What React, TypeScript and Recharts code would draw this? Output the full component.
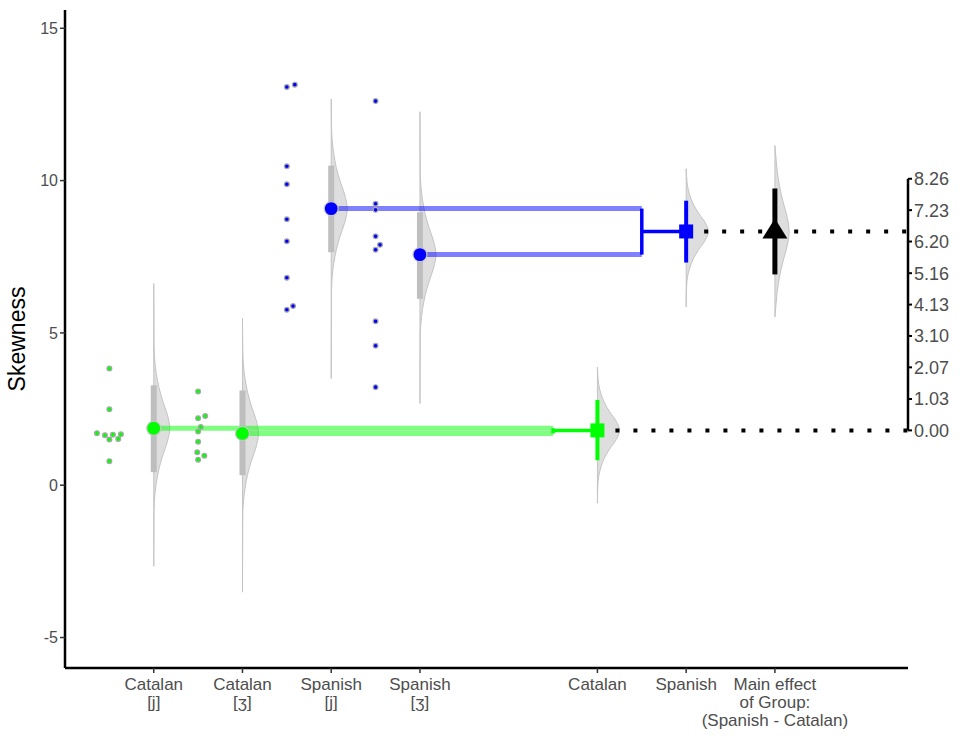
import { Area, ComposedChart, Line, Scatter, XAxis, YAxis } from "recharts";

const FONT = "'Liberation Sans', Arial, sans-serif";
const TEXT_GREY = "#4D4D4D";
const GREEN = "#00FF00";
const BLUE = "#0000FF";

// axes
const X_TICKS = [1, 2, 3, 4, 6, 7, 8];
const X_LABELS = [
  ["Catalan", "[j]"],
  ["Catalan", "[ʒ]"],
  ["Spanish", "[j]"],
  ["Spanish", "[ʒ]"],
  ["Catalan"],
  ["Spanish"],
  ["Main effect", "of Group:", "(Spanish - Catalan)"],
];
const Y_TICKS = [-5, 0, 5, 10, 15];
const RIGHT_TICKS = [0, 1.03, 2.07, 3.1, 4.13, 5.16, 6.2, 7.23, 8.26];
const X_DOMAIN = [0, 9.5];
const Y_DOMAIN = [-6, 15.6];

// raw observations (skewness per participant), with jittered x
const CAT_J = [3.83, 2.49, 1.71, 1.64, 1.66, 1.67, 1.5, 1.52, 0.79];
const CAT_J_X = [0.5, 0.5, 0.36, 0.45, 0.54, 0.63, 0.5, 0.6, 0.5];
const CAT_ZH = [3.08, 2.2, 2.27, 1.91, 1.76, 1.43, 1.08, 0.97, 0.84];
const CAT_ZH_X = [1.5, 1.5, 1.58, 1.53, 1.5, 1.5, 1.49, 1.57, 1.5];
const SPA_J = [13.07, 13.15, 10.47, 9.88, 8.73, 8.01, 6.81, 5.76, 5.88];
const SPA_J_X = [2.5, 2.59, 2.5, 2.5, 2.5, 2.5, 2.5, 2.5, 2.57];
const SPA_ZH = [12.61, 9.24, 9.04, 8.17, 7.89, 7.73, 5.38, 4.58, 3.22];
const SPA_ZH_X = [3.5, 3.5, 3.5, 3.5, 3.55, 3.5, 3.5, 3.5, 3.5];

// cell posteriors: Catalan[j], Catalan[ʒ], Spanish[j], Spanish[ʒ]
const CELL_POS = [1, 2, 3, 4];
const CELL_MEAN = [1.87, 1.7, 9.08, 7.57];
const CELL_LO = [0.43, 0.33, 7.65, 6.12];
const CELL_HI = [3.28, 3.11, 10.49, 8.96];
const CELL_TAIL_LO = [-2.66, -3.51, 3.5, 2.68];
const CELL_TAIL_HI = [6.62, 5.48, 12.68, 12.26];
const CELL_COLOR = [GREEN, GREEN, BLUE, BLUE];

// group marginal posteriors: Catalan, Spanish
const GROUP_POS = [6, 7];
const GROUP_MEAN = [1.8, 8.33];
const GROUP_LO = [0.82, 7.31];
const GROUP_HI = [2.8, 9.34];
const GROUP_TAIL_LO = [-0.59, 5.85];
const GROUP_TAIL_HI = [3.88, 10.39];
const GROUP_COLOR = [GREEN, BLUE];

// main effect (right axis scale)
const EFFECT_POS = 8;
const EFFECT_MEAN = 6.53;
const EFFECT_LO = 5.12;
const EFFECT_HI = 7.94;
const EFFECT_TAIL = [3.72, 9.35];

// half-eye outline: (offset in spreads, relative width)
const PROFILE = [
  [-3, 0.02], [-2.5, 0.06], [-2, 0.16], [-1.5, 0.32], [-1, 0.56], [-0.5, 0.85],
  [0, 1], [0.5, 0.85], [1, 0.56], [1.5, 0.32], [2, 0.16], [2.5, 0.06], [3, 0.02],
];

function halfEye(pos: number, center: number, spread: number, width: number, lo: number, hi: number) {
  const pts = [{ y: lo, xr: [pos, pos] }];
  PROFILE.forEach(([z, w]) => {
    const y = center + z * spread;
    if (y > lo && y < hi) pts.push({ y, xr: [pos, pos + w * width] });
  });
  pts.push({ y: hi, xr: [pos, pos] });
  return pts;
}

const seg = (x1: number, y1: number, x2: number, y2: number) => [
  { x: x1, y: y1 },
  { x: x2, y: y2 },
];

const points = (ys: number[], xs: number[]) => ys.map((y, i) => ({ x: xs[i], y }));

const XTick = (props: any) => {
  const { x, y, payload } = props;
  const lines = X_LABELS[X_TICKS.indexOf(payload.value)] ?? [];
  return (
    <g transform={`translate(${x},${y})`}>
      <text textAnchor="middle" fill={TEXT_GREY} fontSize={17} fontFamily={FONT}>
        {lines.map((l, k) => (
          <tspan key={k} x={0} dy={k === 0 ? 15 : 18}>
            {l}
          </tspan>
        ))}
      </text>
    </g>
  );
};

const rawDot = (fill: string) => (p: any) => (
  <circle cx={p.cx} cy={p.cy} r={2.4} fill={fill} stroke="#A8A8A8" strokeWidth={1.2} />
);
const meanDot = (fill: string) => (p: any) => (
  <circle cx={p.cx} cy={p.cy} r={7} fill={fill} stroke="#C8C8C8" strokeWidth={1.2} />
);
const square = (fill: string) => (p: any) => (
  <rect x={p.cx - 7} y={p.cy - 7} width={14} height={14} fill={fill} />
);
const triangle = (p: any) => (
  <polygon
    points={`${p.cx},${p.cy - 13} ${p.cx - 12.5},${p.cy + 7} ${p.cx + 12.5},${p.cy + 7}`}
    fill="#000"
  />
);

const lineProps = {
  type: "linear" as const,
  dataKey: "x",
  dot: false,
  activeDot: false,
  isAnimationActive: false,
  legendType: "none" as const,
};

const violinProps = {
  type: "monotone" as const,
  dataKey: "xr",
  fill: "#DEDEDE",
  fillOpacity: 1,
  stroke: "#C4C4C4",
  strokeWidth: 1,
  dot: false,
  activeDot: false,
  isAnimationActive: false,
  legendType: "none" as const,
};

export default function App() {
  const rightDomain = [Y_DOMAIN[0] - GROUP_MEAN[0], Y_DOMAIN[1] - GROUP_MEAN[0]];
  const raw = [
    { ys: CAT_J, xs: CAT_J_X, c: GREEN },
    { ys: CAT_ZH, xs: CAT_ZH_X, c: GREEN },
    { ys: SPA_J, xs: SPA_J_X, c: BLUE },
    { ys: SPA_ZH, xs: SPA_ZH_X, c: BLUE },
  ];

  return (
    <div style={{ position: "absolute", left: 0, top: 0, background: "#fff" }}>
      <ComposedChart
        width={961}
        height={736}
        layout="vertical"
        margin={{ top: 10, right: 0, bottom: 8, left: 0 }}
      >
        <XAxis
          type="number"
          dataKey="x"
          domain={X_DOMAIN}
          ticks={X_TICKS}
          interval={0}
          height={60}
          tick={<XTick />}
          tickSize={5}
          axisLine={{ stroke: "#000", strokeWidth: 2.5 }}
          tickLine={{ stroke: "#333", strokeWidth: 1.5 }}
        />
        <YAxis
          type="number"
          dataKey="y"
          reversed
          domain={Y_DOMAIN}
          ticks={Y_TICKS}
          interval={0}
          width={65}
          tickSize={5}
          tick={{ fill: TEXT_GREY, fontSize: 16, fontFamily: FONT }}
          axisLine={{ stroke: "#000", strokeWidth: 2.5 }}
          tickLine={{ stroke: "#333", strokeWidth: 1.5 }}
          label={{
            value: "Skewness",
            angle: -90,
            position: "insideLeft",
            offset: 17,
            fill: "#000",
            fontSize: 23,
            fontFamily: FONT,
            style: { textAnchor: "middle" },
          }}
        />
        <YAxis
          yAxisId="right"
          orientation="right"
          type="number"
          dataKey="y"
          reversed
          domain={rightDomain}
          ticks={RIGHT_TICKS}
          interval={0}
          width={53}
          tickSize={4}
          tickFormatter={(v: number) => v.toFixed(2)}
          tick={{ fill: TEXT_GREY, fontSize: 18, fontFamily: FONT }}
          axisLine={false}
          tickLine={{ stroke: "#000", strokeWidth: 2 }}
        />

        {/* half-eye densities */}
        {CELL_POS.map((p, i) => (
          <Area
            key={`v${i}`}
            {...violinProps}
            data={halfEye(p, CELL_MEAN[i], 0.9, 0.18, CELL_TAIL_LO[i], CELL_TAIL_HI[i])}
          />
        ))}
        {GROUP_POS.map((p, i) => (
          <Area
            key={`g${i}`}
            {...violinProps}
            data={halfEye(p, GROUP_MEAN[i], 0.6, 0.25, GROUP_TAIL_LO[i], GROUP_TAIL_HI[i])}
          />
        ))}
        <Area
          {...violinProps}
          yAxisId="right"
          data={halfEye(EFFECT_POS, EFFECT_MEAN, 1.0, 0.16, EFFECT_TAIL[0], EFFECT_TAIL[1])}
        />

        {/* credible interval bars of the cells */}
        {CELL_POS.map((p, i) => (
          <Line
            key={`ci${i}`}
            {...lineProps}
            data={seg(p, CELL_LO[i], p, CELL_HI[i])}
            stroke="#BEBEBE"
            strokeWidth={6}
          />
        ))}

        {/* links from cells to group brackets */}
        {CELL_POS.map((p, i) => {
          const g = i < 2 ? 0 : 1;
          return (
            <Line
              key={`lk${i}`}
              {...lineProps}
              data={seg(p, CELL_MEAN[i], GROUP_POS[g] - 0.5, CELL_MEAN[i])}
              stroke={CELL_COLOR[i]}
              strokeOpacity={0.5}
              strokeWidth={5}
            />
          );
        })}
        {GROUP_POS.map((p, g) => (
          <Line
            key={`br${g}`}
            {...lineProps}
            data={seg(p - 0.5, CELL_MEAN[g * 2], p - 0.5, CELL_MEAN[g * 2 + 1])}
            stroke={GROUP_COLOR[g]}
            strokeWidth={3.5}
          />
        ))}
        {GROUP_POS.map((p, g) => (
          <Line
            key={`cn${g}`}
            {...lineProps}
            data={seg(p - 0.5, GROUP_MEAN[g], p, GROUP_MEAN[g])}
            stroke={GROUP_COLOR[g]}
            strokeWidth={3.5}
          />
        ))}

        {/* dotted reference lines to the difference axis */}
        {GROUP_POS.map((p, g) => (
          <Line
            key={`dt${g}`}
            {...lineProps}
            data={seg(p, GROUP_MEAN[g], X_DOMAIN[1], GROUP_MEAN[g])}
            stroke="#000"
            strokeWidth={4}
            strokeDasharray="4 14"
          />
        ))}
        <Line
          {...lineProps}
          yAxisId="right"
          data={seg(X_DOMAIN[1], RIGHT_TICKS[0], X_DOMAIN[1], RIGHT_TICKS[RIGHT_TICKS.length - 1])}
          stroke="#000"
          strokeWidth={2.5}
        />

        {/* group and effect intervals */}
        {GROUP_POS.map((p, g) => (
          <Line
            key={`ge${g}`}
            {...lineProps}
            data={seg(p, GROUP_LO[g], p, GROUP_HI[g])}
            stroke={GROUP_COLOR[g]}
            strokeWidth={4}
          />
        ))}
        <Line
          {...lineProps}
          yAxisId="right"
          data={seg(EFFECT_POS, EFFECT_LO, EFFECT_POS, EFFECT_HI)}
          stroke="#000"
          strokeWidth={5}
        />

        {/* raw points */}
        {raw.map((r, i) => (
          <Scatter
            key={`r${i}`}
            data={points(r.ys, r.xs)}
            shape={rawDot(r.c)}
            isAnimationActive={false}
            legendType="none"
          />
        ))}
        {CELL_POS.map((p, i) => (
          <Scatter
            key={`m${i}`}
            data={[{ x: p, y: CELL_MEAN[i] }]}
            shape={meanDot(CELL_COLOR[i])}
            isAnimationActive={false}
            legendType="none"
          />
        ))}
        {GROUP_POS.map((p, g) => (
          <Scatter
            key={`s${g}`}
            data={[{ x: p, y: GROUP_MEAN[g] }]}
            shape={square(GROUP_COLOR[g])}
            isAnimationActive={false}
            legendType="none"
          />
        ))}
        <Scatter
          yAxisId="right"
          data={[{ x: EFFECT_POS, y: EFFECT_MEAN }]}
          shape={triangle}
          isAnimationActive={false}
          legendType="none"
        />
      </ComposedChart>
    </div>
  );
}
